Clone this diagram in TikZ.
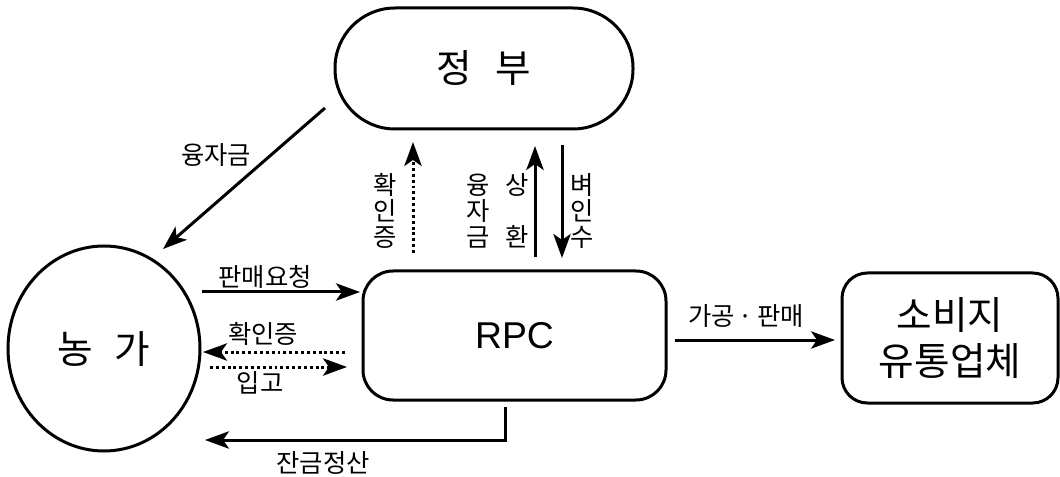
\documentclass[tikz,border=0pt]{standalone}
\usepackage{fontspec}
\usetikzlibrary{arrows.meta,shapes.geometric}
\newfontfamily\krfont{Noto Sans CJK KR}
\newfontfamily\lafont{Liberation Sans}

\tikzset{
  conn/.style={line width=2.25pt,-{Stealth[length=18pt,width=13pt,inset=4.5pt]}},
  dotconn/.style={conn,dash pattern=on 2.2pt off 2.2pt},
  entity/.style={draw,line width=2.25pt,inner sep=0pt,align=center,
    font=\krfont\fontsize{29}{35}\selectfont},
  lbl/.style={inner sep=0pt,align=center,font=\krfont\fontsize{19}{19.5}\selectfont},
}

\begin{document}
\begin{tikzpicture}[x=0.75pt,y=-0.75pt]
\useasboundingbox (0,0) rectangle (1060,477);

% actors
\node[entity,rounded corners=45pt,minimum width=223.5pt,minimum height=90.75pt]
  (gov) at (484,68.5) {정\hspace{0.62em}부};
\node[entity,ellipse,minimum width=144pt,minimum height=153.75pt]
  (farm) at (104,348.5) {농\hspace{0.55em}가};
\node[entity,rounded corners=22.5pt,minimum width=227.25pt,minimum height=96.75pt]
  (rpc) at (514.5,335.5) {\lafont\fontsize{28}{35}\selectfont RPC};
\node[entity,rounded corners=19pt,minimum width=162pt,minimum height=97.5pt]
  (cons) at (950,338) {소비지\\유통업체};

% connector end points
\coordinate (loanS) at (325,108);
\coordinate (loanE) at (163,249);
\coordinate (certUS) at (413,253);
\coordinate (certUE) at (413,142);
\coordinate (repS) at (535,257);
\coordinate (repE) at (535,146);
\coordinate (riceS) at (562,145);
\coordinate (riceE) at (562,258);
\coordinate (reqS) at (202,292);
\coordinate (reqE) at (360,292);
\coordinate (certLS) at (345,352);
\coordinate (certLE) at (203,352);
\coordinate (inS) at (210,367);
\coordinate (inE) at (347,367);
\coordinate (saleS) at (675,340);
\coordinate (saleE) at (835,340);
\coordinate (balS) at (505,407);
\coordinate (balC) at (505,440);
\coordinate (balE) at (205,440);

% connectors
\draw[conn] (loanS) -- (loanE);
\draw[dotconn] (certUS) -- (certUE);
\draw[conn] (repS) -- (repE);
\draw[conn] (riceS) -- (riceE);
\draw[conn] (reqS) -- (reqE);
\draw[dotconn] (certLS) -- (certLE);
\draw[dotconn] (inS) -- (inE);
\draw[conn] (saleS) -- (saleE);
\draw[conn] (balS) -- (balC) -- (balE);

% labels
\node[lbl] (tLoan) at (216,155) {융자금};
\node[lbl] (tCertV) at (385,211) {확\\인\\증};
\node[lbl] (tLoanV) at (478,211) {융\\자\\금};
\node[lbl] (tRepay) at (517,211) {상\\~\\환};
\node[lbl] (tRice) at (582,211) {벼\\인\\수};
\node[lbl] (tReq) at (265,277) {판매요청};
\node[lbl] (tCertH) at (263,334) {확인증};
\node[lbl] (tIn) at (260,383) {입고};
\node[lbl] (tSale) at (746,316) {가공\,·\,판매};
\node[lbl] (tBal) at (323,463) {잔금정산};
\end{tikzpicture}
\end{document}
